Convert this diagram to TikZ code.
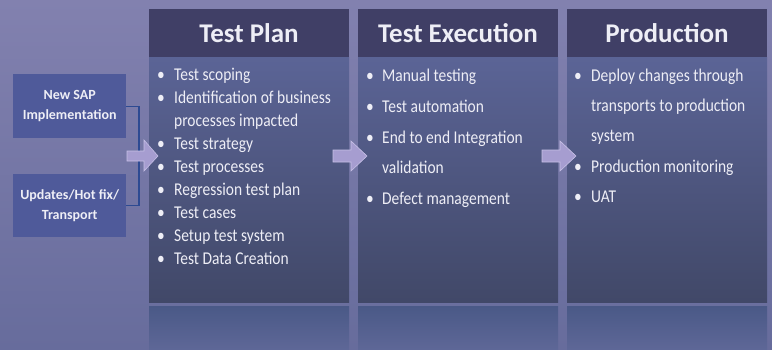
\documentclass[tikz,border=0pt]{standalone}
\usepackage{fontspec}
\setmainfont{Carlito}
\newfontfamily\itemfont{Carlito}[FakeStretch=0.86]
\definecolor{bgtop}{HTML}{8281AF}
\definecolor{bgbot}{HTML}{676C9C}
\definecolor{hdrc}{HTML}{403F66}
\definecolor{bodyt}{HTML}{5B6496}
\definecolor{bodyb}{HTML}{414868}
\definecolor{reft}{HTML}{4A5987}
\definecolor{refb}{HTML}{5E6797}
\definecolor{boxc}{HTML}{4F5A9A}
\definecolor{brc}{HTML}{2D4A92}
\definecolor{arrc}{HTML}{A69DD0}
\definecolor{arrd}{HTML}{C7C0E6}
\definecolor{txtc}{HTML}{EEEEF6}
\begin{document}
\begin{tikzpicture}[x=1pt,y=-1pt,
  hdr/.style={fill=hdrc, minimum width=200pt, minimum height=48pt, inner sep=0pt, anchor=north west},
  body/.style={top color=bodyt, bottom color=bodyb, minimum width=200pt, minimum height=245pt, inner sep=0pt, anchor=north west},
  refl/.style={top color=reft, bottom color=refb, minimum width=200pt, minimum height=43pt, inner sep=0pt, anchor=north west},
  htext/.style={text=txtc, font=\bfseries\fontsize{27}{27}\selectfont, inner sep=0pt, anchor=base},
  item/.style={text=txtc, font=\itemfont\fontsize{18}{18}\selectfont, inner sep=0pt, anchor=base west},
  bul/.style={text=txtc, font=\itemfont\fontsize{18}{18}\selectfont, inner sep=0pt, anchor=base},
  srcbox/.style={fill=boxc, minimum width=113pt, minimum height=64pt, inner sep=0pt, text=txtc, align=center, font=\bfseries\fontsize{14}{20}\selectfont},
  barrow/.style={fill=arrc, draw=arrd, line width=0.6pt, line join=miter},
  bracket/.style={draw=brc, line width=1.4pt}]
\useasboundingbox (0,0) rectangle (772,349);
\shade[top color=bgtop, bottom color=bgbot] (0,0) rectangle (772,349);

% columns
\node[hdr] (h1) at (149,9) {};
\node[hdr] (h2) at (358,9) {};
\node[hdr] (h3) at (567,9) {};
\node[body] (b1) at (149,57) {};
\node[body] (b2) at (358,57) {};
\node[body] (b3) at (567,57) {};
\node[refl] (r1) at (149,306) {};
\node[refl] (r2) at (358,306) {};
\node[refl] (r3) at (567,306) {};

\node[htext] (t1) at (249,42) {Test Plan};
\node[htext] (t2) at (458,42) {Test Execution};
\node[htext] (t3) at (667,42) {Production};

% Test Plan items
\foreach \y/\t [count=\i] in {80/Test scoping, 103/Identification of business, 126/processes impacted, 149/Test strategy, 172/Test processes, 195/Regression test plan, 218/Test cases, 241/Setup test system, 264/Test Data Creation}{
  \node[item] (pi\i) at (174,\y) {\t};
}
\foreach \y [count=\i] in {80,103,149,172,195,218,241,264}{
  \node[bul] (pb\i) at (161,\y) {•};
}

% Test Execution items
\foreach \y/\t [count=\i] in {81/Manual testing, 112/Test automation, 143/End to end Integration, 173/validation, 204/Defect management}{
  \node[item] (ei\i) at (382,\y) {\t};
}
\foreach \y [count=\i] in {81,112,143,204}{
  \node[bul] (eb\i) at (370,\y) {•};
}

% Production items
\foreach \y/\t [count=\i] in {81/Deploy changes through, 111/transports to production, 141/system, 172/Production monitoring, 202/UAT}{
  \node[item] (qi\i) at (591,\y) {\t};
}
\foreach \y [count=\i] in {81,172,202}{
  \node[bul] (qb\i) at (578,\y) {•};
}

% source boxes
\node[srcbox, anchor=north west] (s1) at (13,74) {New SAP\\Implementation};
\node[srcbox, anchor=north west, minimum height=63pt] (s2) at (13,174) {Updates/Hot fix/\\Transport};
\coordinate (bx) at (139,0);
\draw[bracket] (s1.east) -- (s1.east -| bx) -- (s2.east -| bx) -- (s2.east);

% block arrows
\draw[barrow] (127,151) -- (144,151) -- (144,140) -- (158,156) -- (144,171) -- (144,161) -- (127,161) -- cycle;
\draw[barrow] (333,150) -- (351,150) -- (351,141) -- (367,156) -- (351,171) -- (351,162) -- (333,162) -- cycle;
\draw[barrow] (542,150) -- (560,150) -- (560,141) -- (576,156) -- (560,171) -- (560,162) -- (542,162) -- cycle;
\end{tikzpicture}
\end{document}
